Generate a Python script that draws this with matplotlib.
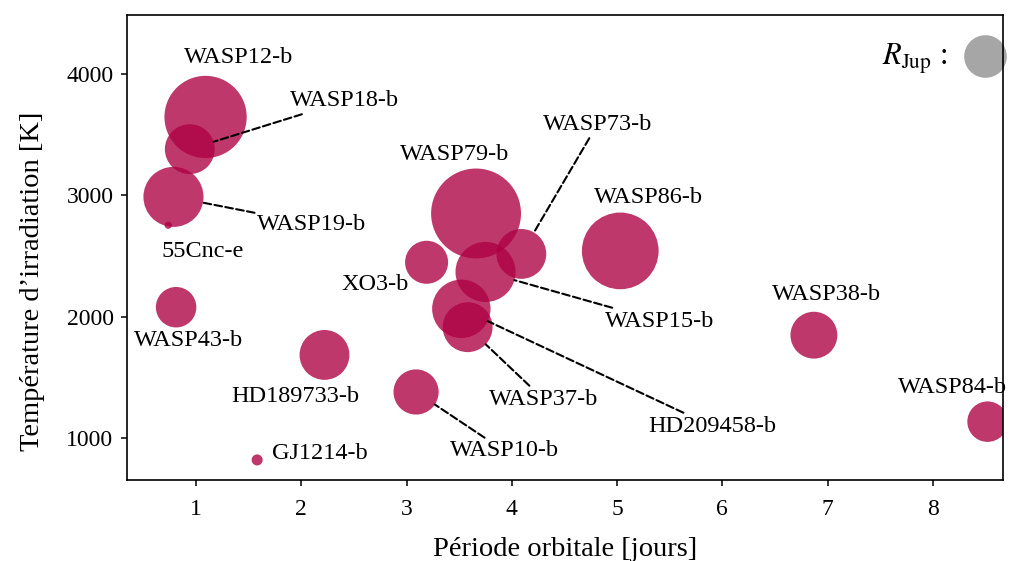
import numpy as np
import matplotlib
matplotlib.use("Agg")
import matplotlib.pyplot as plt

plt.rcParams['font.family'] = ['Liberation Serif', 'DejaVu Serif']
plt.rcParams['mathtext.fontset'] = 'stix'

# Planètes : période orbitale [jours], température d'irradiation [K], rayon [R_Jup]
noms = ["WASP12-b", "WASP18-b", "WASP19-b", "55Cnc-e", "WASP43-b", "HD189733-b",
        "GJ1214-b", "XO3-b", "WASP79-b", "WASP73-b", "WASP15-b", "HD209458-b",
        "WASP37-b", "WASP10-b", "WASP86-b", "WASP38-b", "WASP84-b"]
periodes = [1.09, 0.94, 0.785, 0.735, 0.81, 2.22, 1.58, 3.19, 3.66, 4.09, 3.75,
            3.52, 3.58, 3.09, 5.03, 6.87, 8.52]
t_irr = [3648, 3382, 2988, 2754, 2077, 1683, 816, 2448, 2851, 2517, 2368,
         2064, 1912, 1377, 2542, 1846, 1132]
rayons = [1.93, 1.17, 1.41, 0.17, 0.95, 1.17, 0.26, 1.01, 2.11, 1.17, 1.41,
          1.37, 1.17, 1.06, 1.80, 1.10, 0.95]

# position des étiquettes (coordonnées des données) et trait pointillé ou non
pos_labels = {
    "WASP12-b": (1.40, 4143, False),
    "WASP18-b": (2.41, 3780, True),
    "WASP19-b": (2.10, 2764, True),
    "55Cnc-e": (1.06, 2541, False),
    "WASP43-b": (0.93, 1798, False),
    "HD189733-b": (1.94, 1336, False),
    "GJ1214-b": (2.18, 865, False),
    "XO3-b": (2.70, 2261, False),
    "WASP79-b": (3.46, 3334, False),
    "WASP73-b": (4.81, 3582, True),
    "WASP15-b": (5.40, 1963, True),
    "HD209458-b": (5.90, 1096, True),
    "WASP37-b": (4.30, 1319, True),
    "WASP10-b": (3.93, 890, True),
    "WASP86-b": (5.30, 2987, False),
    "WASP38-b": (6.99, 2178, False),
    "WASP84-b": (8.19, 1418, False),
}

couleur = '#ae0042'
r_jup_pt = 15.34          # rayon (en points) d'une planète de 1 R_Jup
s_jup = (2 * r_jup_pt) ** 2

fig = plt.figure(figsize=(10.18, 5.61), dpi=100)
ax = fig.add_axes([0.1245, 0.1439, 0.8608, 0.8294])

rayons = np.array(rayons)
ax.scatter(periodes, t_irr, s=s_jup * rayons ** 2, color=couleur, alpha=0.78,
           linewidths=0, zorder=2)

for nom, p, t, r in zip(noms, periodes, t_irr, rayons):
    xt, yt, trait = pos_labels[nom]
    if trait:
        ax.annotate(nom, xy=(p, t), xytext=(xt, yt), fontsize=17.5,
                    ha='center', va='center', zorder=3,
                    arrowprops=dict(arrowstyle='-', ls='--', lw=1.5, color='k',
                                    shrinkA=0, shrinkB=r * r_jup_pt))
    else:
        ax.text(xt, yt, nom, fontsize=17.5, ha='center', va='center', zorder=3)

# échelle : taille d'une planète de 1 R_Jup
ax.scatter([0.9794], [0.912], s=s_jup, color='#a6a6a6', linewidths=0,
           transform=ax.transAxes, clip_on=False)
ax.text(0.936, 0.905, r"$R_{\mathrm{Jup}}$ :", fontsize=22, ha='right', va='center',
        transform=ax.transAxes)

ax.set_xlim(0.341, 8.667)
ax.set_ylim(648, 4490)
ax.set_xticks(np.arange(1, 9))
ax.set_yticks([1000, 2000, 3000, 4000])
ax.tick_params(labelsize=17, length=4.5, width=1.1)
ax.tick_params(axis='x', pad=9)
ax.tick_params(axis='y', pad=5)
for sp in ax.spines.values():
    sp.set_linewidth(1.2)

ax.set_xlabel("Période orbitale [jours]", fontsize=20.5, labelpad=12)
ax.set_ylabel("Température d’irradiation [K]", fontsize=20.5)
ax.yaxis.set_label_coords(-0.093, 0.428)

fig.savefig("out.png", dpi=100)
